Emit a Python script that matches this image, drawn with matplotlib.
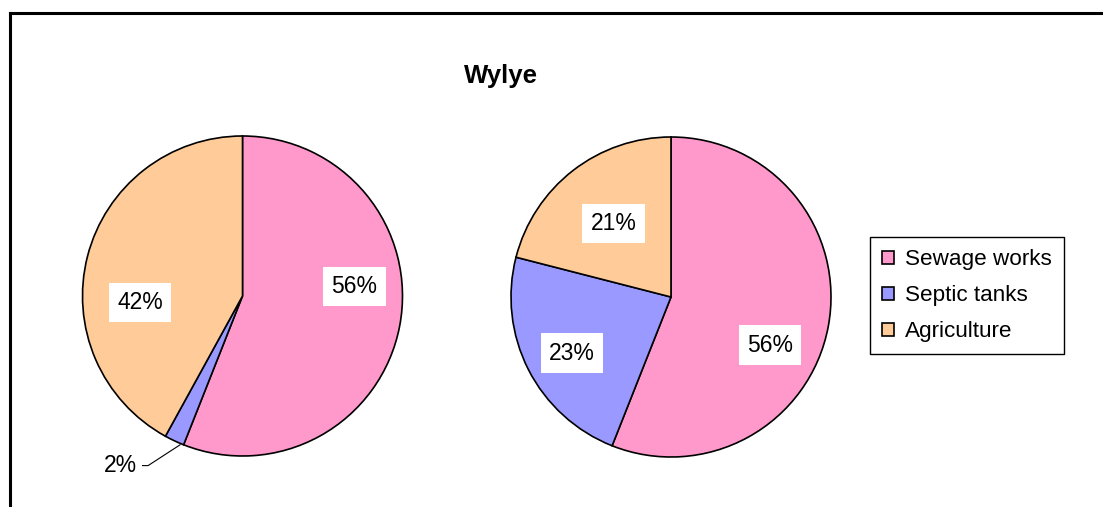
import matplotlib
matplotlib.use("Agg")
import matplotlib.pyplot as plt
from matplotlib.lines import Line2D

plt.rcParams['font.family'] = ['Liberation Sans', 'DejaVu Sans']

# данные
title = "Wylye"
categories = ["Sewage works", "Septic tanks", "Agriculture"]
pie_left = [56, 2, 42]
pie_right = [56, 23, 21]
colors = ["#FF99CC", "#9999FF", "#FFCC99"]

# положение подписей (в радиусах круга)
label_pos_left = [(0.70, 0.06), None, (-0.64, -0.04)]
label_pos_right = [(0.62, -0.30), (-0.62, -0.35), (-0.36, 0.46)]
outside_left = (1, (-0.76, -1.06), (-0.39, -0.93))  # 2% с выноской

W, H = 1103, 507
fig = plt.figure(figsize=(W / 100, H / 100), dpi=100)

R = 160


def pie_axes(cx, cy):
    return fig.add_axes([(cx - R) / W, (H - cy - R) / H, 2 * R / W, 2 * R / H])


def draw_pie(ax, values, label_pos):
    wedges, _ = ax.pie(values, colors=colors, startangle=90, counterclock=False,
                       radius=1, wedgeprops=dict(edgecolor='black', linewidth=1.2))
    for v, pos in zip(values, label_pos):
        if pos is None:
            continue
        ax.text(pos[0], pos[1], f"{v}%", ha='center', va='center', fontsize=16.5,
                bbox=dict(boxstyle='square,pad=0.36', facecolor='white', edgecolor='none'))
    ax.set_xlim(-1, 1)
    ax.set_ylim(-1, 1)
    ax.set_aspect('auto')
    ax.axis('off')
    return wedges


ax1 = pie_axes(242.5, 296)
wedges = draw_pie(ax1, pie_left, label_pos_left)
idx, tpos, epos = outside_left
ax1.text(tpos[0], tpos[1], f"{pie_left[idx]}%", ha='center', va='center', fontsize=16.5)
ax1.plot([tpos[0] + 0.135, tpos[0] + 0.17, epos[0]],
         [tpos[1], tpos[1], epos[1]], color='black', linewidth=0.8,
         clip_on=False)

ax2 = pie_axes(671, 297)
draw_pie(ax2, pie_right, label_pos_right)

fig.text(500.5 / W, (H - 76) / H, title, ha='center', va='center',
         fontsize=18.5, fontweight='bold')

fig.legend(wedges, categories, loc='upper left',
           bbox_to_anchor=(870 / W, (H - 237) / H), borderaxespad=0,
           fontsize=16.2, frameon=True, fancybox=False, edgecolor='black',
           framealpha=1, handlelength=0.5, handleheight=0.5,
           handletextpad=0.5, labelspacing=0.66, borderpad=0.55)
fig.legends[0].get_frame().set_linewidth(1.0)

# рамка диаграммы
fig.add_artist(Line2D([9.5 / W, 9.5 / W], [0, (H - 13) / H], color='black', linewidth=2.2))
fig.add_artist(Line2D([9.5 / W, 1], [(H - 13) / H, (H - 13) / H], color='black', linewidth=2.2))

fig.savefig("out.png", dpi=100)
